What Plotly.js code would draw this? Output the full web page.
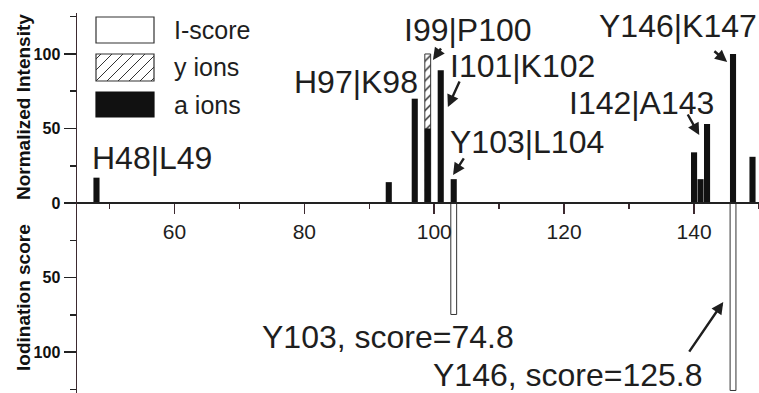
<!DOCTYPE html>
<html>
<head>
<meta charset="utf-8">
<script src="https://cdn.plot.ly/plotly-3.0.1.min.js"></script>
<style>
  html, body { margin: 0; padding: 0; background: #fff; }
  #chart { width: 759px; height: 393px; }
</style>
</head>
<body>
<div id="chart"></div>
<script>
// Cleavage positions (residue number) and normalized fragment intensities
const aIonResidue = [48, 93, 97, 99, 101, 103, 140, 141, 142, 146, 149];
const aIonIntensity = [17, 14, 70, 50, 89, 16, 34, 16, 53, 100, 31];
const yIonResidue = [99];
const yIonIntensity = [100];

// Iodination scores per tyrosine (drawn downward)
const iScoreResidue = [103, 146];
const iScoreValue = [74.8, 125.8];

// Cleavage-site labels
const cleavageLabels = ['H48|L49', 'H97|K98', 'I99|P100', 'I101|K102', 'Y103|L104', 'I142|A143', 'Y146|K147'];
const scoreLabels = iScoreResidue.map((r, i) => 'Y' + r + ', score=' + iScoreValue[i]);

// Axis ticks
const xTickVals = [60, 80, 100, 120, 140];
const xMinorVals = [50, 70, 90, 110, 130, 150];
const yTickVals = [-100, -50, 0, 50, 100];
const yTickText = ['100', '50', '0', '50', '100'];
const yMinorVals = [-125, -75, -25, 25, 75, 125];

const FONT = 'Liberation Sans, Arial, Helvetica, sans-serif';
const INK = '#1e1e1e';
const AXIS = '#3d2a30';

// Plot-area geometry in pixels, used to place the legend and titles
const W = 759, H = 393, M = { l: 77, r: 0, t: 13, b: 0 };
const px = x => (x - M.l) / (W - M.l - M.r);
const py = y => (H - M.b - y) / (H - M.t - M.b);

const traces = [
  {
    type: 'bar', name: 'y ions', x: yIonResidue, y: yIonIntensity, width: 0.9,
    marker: { color: '#fff', line: { color: '#333', width: 1 },
              pattern: { shape: '/', size: 7, solidity: 0.2, fgcolor: '#222', bgcolor: '#fff' } },
    hoverinfo: 'x+y'
  },
  {
    type: 'bar', name: 'a ions', x: aIonResidue, y: aIonIntensity, width: 0.94,
    marker: { color: '#111', line: { width: 0 } }, hoverinfo: 'x+y'
  },
  {
    type: 'bar', name: 'I-score', x: iScoreResidue, y: iScoreValue.map(v => -v), width: 0.9,
    marker: { color: '#fff', line: { color: '#333', width: 1 } },
    customdata: iScoreValue, hovertemplate: '%{x}: %{customdata}<extra></extra>'
  }
];

// Text labels (left edge, vertical centre in data units)
const labelPos = [
  [47.0, 30], [78.1, 81], [95.0, 116], [102.1, 92], [102.1, 41], [120.4, 67], [125.1, 119]
];
const scorePos = [[73.2, -90], [99.5, -115.5]];

// Arrows: [tailX, tailY, headX, headY]
const arrows = [
  [101.2, 104.7, 99.8, 96],
  [104.0, 82.6, 102.1, 64.4],
  [104.7, 30.9, 102.9, 18.8],
  [138.9, 60.4, 140.8, 45.6],
  [142.9, 102.7, 145.1, 94.6],
  [139.1, -100.7, 144.5, -66.4]
];

const annotations = [];
cleavageLabels.forEach((t, i) => annotations.push({
  text: t, x: labelPos[i][0], y: labelPos[i][1], xref: 'x', yref: 'y',
  xanchor: 'left', yanchor: 'middle', showarrow: false,
  font: { family: FONT, size: 32, color: INK }
}));
scoreLabels.forEach((t, i) => annotations.push({
  text: t, x: scorePos[i][0], y: scorePos[i][1], xref: 'x', yref: 'y',
  xanchor: 'left', yanchor: 'middle', showarrow: false,
  font: { family: FONT, size: 32, color: INK }
}));
arrows.forEach(a => annotations.push({
  text: '', x: a[2], y: a[3], ax: a[0], ay: a[1], xref: 'x', yref: 'y', axref: 'x', ayref: 'y',
  showarrow: true, arrowhead: 2, arrowsize: 1, arrowwidth: 2.4, arrowcolor: INK
}));

// Axis titles for the two halves
annotations.push({
  text: 'Normalized Intensity', xref: 'paper', yref: 'paper', x: px(23), y: py(107),
  textangle: -90, showarrow: false, xanchor: 'center', yanchor: 'middle',
  font: { family: FONT, size: 19, color: '#111', weight: 'bold' }
});
annotations.push({
  text: 'Iodination score', xref: 'paper', yref: 'paper', x: px(23), y: py(298),
  textangle: -90, showarrow: false, xanchor: 'center', yanchor: 'middle',
  font: { family: FONT, size: 19, color: '#111', weight: 'bold' }
});

// Legend
const legendItems = ['I-score', 'y ions', 'a ions'];
const swatch = [[17, 43], [54, 81], [92, 117]];
const swX0 = 96, swX1 = 154;
const shapes = [];
swatch.forEach((s, i) => {
  shapes.push({
    type: 'rect', xref: 'paper', yref: 'paper',
    x0: px(swX0), x1: px(swX1), y0: py(s[1]), y1: py(s[0]),
    fillcolor: i === 2 ? '#111' : '#fff',
    line: { color: i === 2 ? '#111' : '#333', width: 1.2 }
  });
  annotations.push({
    text: legendItems[i], xref: 'paper', yref: 'paper', x: px(172), y: py((s[0] + s[1]) / 2),
    xanchor: 'left', yanchor: 'middle', showarrow: false,
    font: { family: FONT, size: 25, color: INK }
  });
});
// hatch for the y-ion swatch
(function () {
  const top = swatch[1][0], bot = swatch[1][1], h = bot - top, step = 11;
  for (let k = -Math.ceil(h / step); k <= Math.ceil((swX1 - swX0) / step); k++) {
    let sx = swX0 + k * step, sy = bot, ex = sx + h, ey = top;
    if (sx < swX0) { sy -= (swX0 - sx); sx = swX0; }
    if (ex > swX1) { ey += (ex - swX1); ex = swX1; }
    if (sx >= swX1 || ex <= swX0 || sy <= ey) continue;
    shapes.push({
      type: 'line', xref: 'paper', yref: 'paper',
      x0: px(sx), y0: py(sy), x1: px(ex), y1: py(ey),
      line: { color: '#333', width: 1 }
    });
  }
})();

const layout = {
  width: W, height: H,
  margin: M,
  paper_bgcolor: '#fff', plot_bgcolor: '#fff',
  showlegend: false,
  barmode: 'overlay',
  xaxis: {
    range: [45, 150], anchor: 'free', position: 0.5,
    showline: true, linecolor: '#222', linewidth: 2,
    ticks: 'outside', ticklen: 10, tickwidth: 1.5, tickcolor: AXIS,
    tickmode: 'array', tickvals: xTickVals,
    minor: { tickmode: 'array', tickvals: xMinorVals, ticks: 'outside', ticklen: 5, tickwidth: 1.5, tickcolor: AXIS },
    tickfont: { family: FONT, size: 21, color: INK },
    showgrid: false, zeroline: false
  },
  yaxis: {
    range: [-127.5, 127.5],
    showline: true, linecolor: AXIS, linewidth: 1.5,
    ticks: 'outside', ticklen: 12, tickwidth: 1.5, tickcolor: '#222',
    tickmode: 'array', tickvals: yTickVals, ticktext: yTickText,
    minor: { tickmode: 'array', tickvals: yMinorVals, ticks: 'outside', ticklen: 6, tickwidth: 1.5, tickcolor: '#222' },
    tickfont: { family: FONT, size: 16, color: '#111', weight: 'bold' },
    showgrid: false, zeroline: false
  },
  annotations: annotations,
  shapes: shapes
};

Plotly.newPlot('chart', traces, layout, { displayModeBar: false, staticPlot: true });
</script>
</body>
</html>
